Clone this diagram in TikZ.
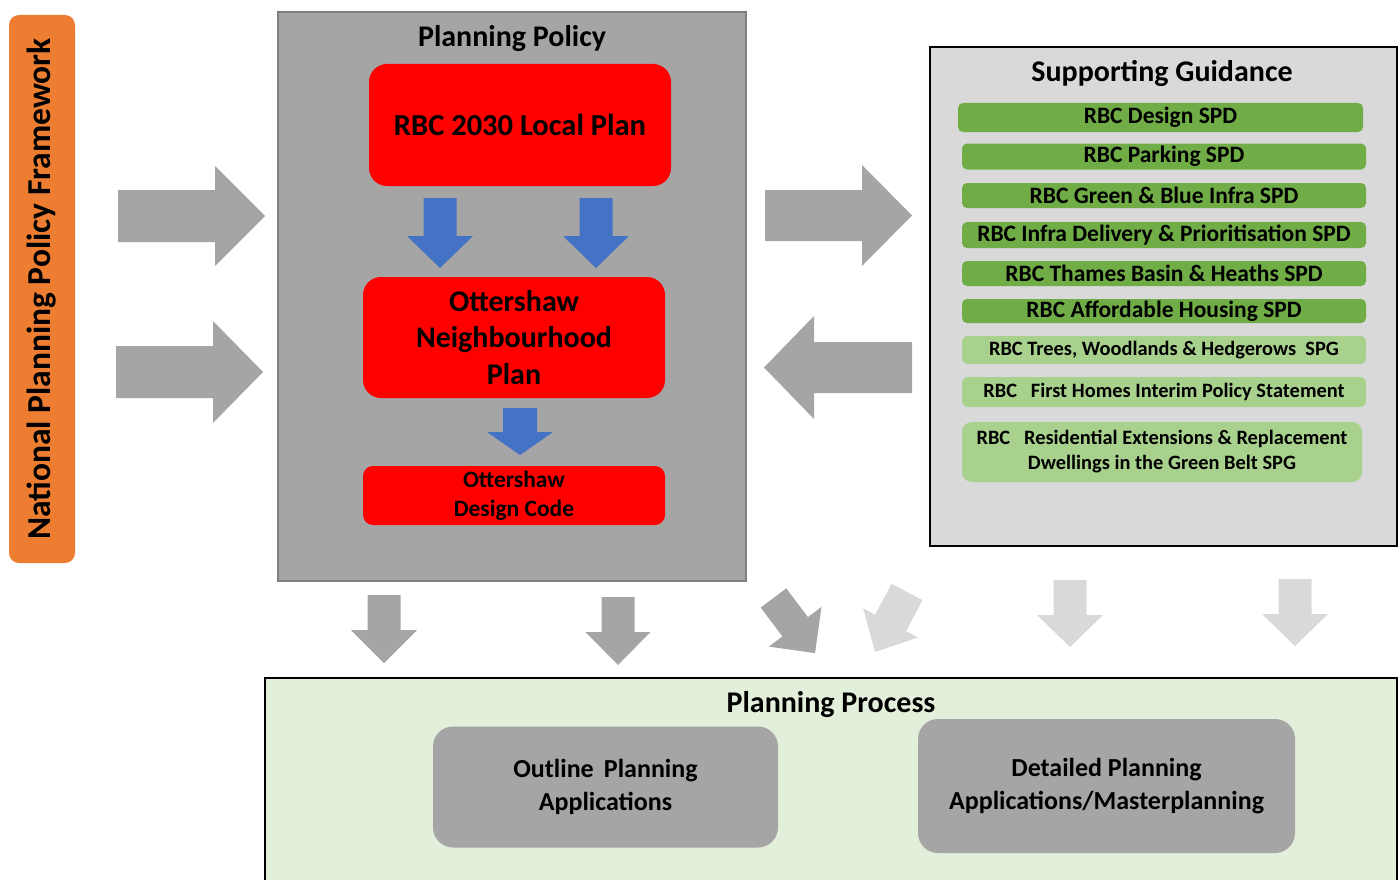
\documentclass[tikz,border=0pt]{standalone}
\usepackage{fontspec}
\setmainfont{Carlito}

\definecolor{nppforange}{HTML}{ED7D31}
\definecolor{arrowgray}{HTML}{A5A5A5}
\definecolor{palearrow}{HTML}{D9D9D9}
\definecolor{policygray}{HTML}{A5A5A5}
\definecolor{policyedge}{HTML}{7F7F7F}
\definecolor{planred}{HTML}{FF0000}
\definecolor{flowblue}{HTML}{4472C4}
\definecolor{guidegray}{HTML}{D9D9D9}
\definecolor{spdgreen}{HTML}{70AD47}
\definecolor{spggreen}{HTML}{A9D18E}
\definecolor{processgreen}{HTML}{E2EFDA}
\definecolor{appgray}{HTML}{A5A5A5}

\tikzset{
  % block arrow pointing along +x: length, shaft half width, head half width, head length
  pics/blockarrow/.style n args={4}{code={
    \fill (0,-#2) -- ({#1-#4},-#2) -- ({#1-#4},-#3) -- (#1,0)
          -- ({#1-#4},#3) -- ({#1-#4},#2) -- (0,#2) -- cycle;
  }},
  panel/.style={line width=2pt, inner sep=0pt},
  titletext/.style={font=\bfseries\fontsize{30}{36}\selectfont, anchor=base},
  redbox/.style={fill=planred, rounded corners=18pt, align=center},
  spdbar/.style={fill=spdgreen, rounded corners=5pt, minimum width=404,
    font=\bfseries\fontsize{23.5}{28}\selectfont, align=center},
  spgbar/.style={fill=spggreen, rounded corners=6pt, minimum width=404,
    font=\bfseries\fontsize{20.4}{25}\selectfont, align=center},
  appbox/.style={fill=appgray, rounded corners=20pt, align=center,
    font=\bfseries\fontsize{26}{33}\selectfont},
}

\begin{document}
\begin{tikzpicture}[x=1pt, y=-1pt, every node/.style={inner sep=0pt, outer sep=0pt, text=black}]
\clip (0,0) rectangle (1399,880);
\fill[white] (0,0) rectangle (1399,880);

% National framework banner
\node[fill=nppforange, rounded corners=10pt, rotate=90, minimum width=548, minimum height=66,
      font=\bfseries\fontsize{33.5}{40}\selectfont] (nppf) at (42,289) {National Planning Policy Framework};

% arrows from the framework into the policy panel
\pic[color=arrowgray] at (118,216) {blockarrow={147}{26}{50}{50}};
\pic[color=arrowgray] at (116,372) {blockarrow={147}{26}{51}{50}};

% Planning policy panel
\node[panel, draw=policyedge, fill=policygray, minimum width=468, minimum height=569] (policy) at (512,296.5) {};
\node[titletext] (policytitle) at (512,47) {Planning Policy};

\node[redbox, minimum width=302, minimum height=122, font=\bfseries\fontsize{30.5}{36}\selectfont]
  (localplan) at (520,125) {RBC 2030 Local Plan};
\node[redbox, minimum width=302, minimum height=121, font=\bfseries\fontsize{30}{36.5}\selectfont]
  (ndp) at (514,337.5) {Ottershaw\\Neighbourhood\\Plan};
\node[redbox, rounded corners=10pt, minimum width=302, minimum height=59, font=\bfseries\fontsize{23.5}{29}\selectfont]
  (designcode) at (514,495.5) {Ottershaw\\Design Code};

\pic[color=flowblue, rotate=-90] at (440,198) {blockarrow={70}{16.5}{33}{32}};
\pic[color=flowblue, rotate=-90] at (596,198) {blockarrow={70}{16.5}{33}{32}};
\pic[color=flowblue, rotate=-90] at (520,408) {blockarrow={47}{17}{33}{23}};

% exchange between policy and guidance
\pic[color=arrowgray] at (765,215.5) {blockarrow={147}{25.5}{50.5}{50}};
\pic[color=arrowgray, rotate=180] at (912,367.5) {blockarrow={148}{25.5}{51.5}{50}};

% Supporting guidance panel
\node[panel, draw=black, fill=guidegray, minimum width=467, minimum height=499] (guidance) at (1163.5,296.5) {};
\node[titletext] (guidetitle) at (1162,82) {Supporting Guidance};

\node[spdbar, minimum width=405, minimum height=29] (g1) at (1160.5,117.5) {RBC Design SPD};
\node[spdbar, minimum height=26] (g2) at (1164,156.5) {RBC Parking SPD};
\node[spdbar, minimum height=25] (g3) at (1164,195.5) {RBC Green \& Blue Infra SPD};
\node[spdbar, minimum height=26] (g4) at (1164,235) {RBC Infra Delivery \& Prioritisation SPD};
\node[spdbar, minimum height=25] (g5) at (1164,273.5) {RBC Thames Basin \&\ Heaths SPD};
\node[spdbar, minimum height=24] (g6) at (1164,311) {RBC Affordable Housing SPD};
\node[spgbar, minimum height=28] (g7) at (1164,350) {RBC Trees, Woodlands \& Hedgerows\ \ SPG};
\node[spgbar, minimum height=30] (g8) at (1164,392) {RBC\ \ \ First Homes Interim Policy Statement};
\node[spgbar, rounded corners=10pt, minimum width=400, minimum height=60] (g9) at (1162,452)
  {RBC\ \ \ Residential Extensions \& Replacement\\Dwellings in the Green Belt SPG};

% arrows down into the planning process
\pic[color=arrowgray, rotate=-90] at (384,595) {blockarrow={68}{16.5}{33}{33}};
\pic[color=arrowgray, rotate=-90] at (618,597) {blockarrow={68}{16.5}{32.5}{33}};
\pic[color=arrowgray, rotate=-53] at (773.5,598) {blockarrow={69}{16}{33}{33}};
\pic[color=palearrow, rotate=-118] at (907,592) {blockarrow={68}{17.5}{31}{33}};
\pic[color=palearrow, rotate=-90] at (1070,580) {blockarrow={67}{16.5}{33}{32}};
\pic[color=palearrow, rotate=-90] at (1295,579) {blockarrow={67}{16.5}{33}{32}};

% Planning process panel
\draw[line width=2pt, fill=processgreen] (265,678) rectangle (1397,900);
\node[titletext] (processtitle) at (831,712) {Planning Process};

\node[appbox, minimum width=345, minimum height=121] (outline) at (605.5,787)
  {Outline\ \,Planning\\Applications};
\node[appbox, minimum width=377, minimum height=134] (detailed) at (1106.5,786)
  {Detailed Planning\\Applications/Masterplanning};
\end{tikzpicture}
\end{document}
